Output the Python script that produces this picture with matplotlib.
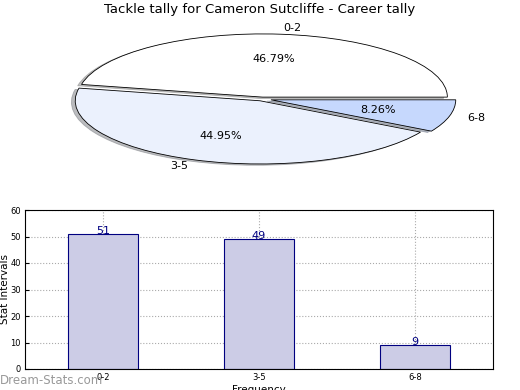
import matplotlib
matplotlib.use("Agg")
import matplotlib.pyplot as plt
import numpy as np

# data
categories = ["0-2", "3-5", "6-8"]
counts = [51, 49, 9]
pie_colors = ["#ffffff", "#ebf1fd", "#c6d8fd"]
explode = [0.03, 0.03, 0.05]

fig = plt.figure(figsize=(5.2, 3.9), dpi=100)

# pie chart (stretched, old-style)
ax1 = fig.add_axes([31 / 520, 1 - 178 / 390, 462 / 520, 158 / 390])
wedges, texts, autotexts = ax1.pie(
    counts, labels=categories, colors=pie_colors, explode=explode,
    autopct="%.2f%%", shadow={"ox": -0.015, "oy": -0.015, "shade": 0.5},
    startangle=0,
    wedgeprops={"edgecolor": "black", "linewidth": 0.6},
    textprops={"fontsize": 8},
)
ax1.set_aspect("auto")
ax1.set_xlim(-1.25, 1.25)
ax1.set_ylim(-1.25, 1.25)
fig.text(0.5, 1 - 10 / 390, "Tackle tally for Cameron Sutcliffe - Career tally",
         ha="center", va="center", fontsize=9.5)

# bar chart
ax2 = fig.add_axes([25 / 520, 1 - 369 / 390, 468 / 520, 159 / 390])
x = np.arange(len(categories))
ax2.bar(x, counts, width=0.45, color="#ccccE6", edgecolor="#000080",
        linewidth=0.8, zorder=2)
for xi, v in zip(x, counts):
    ax2.text(xi, v, str(v), ha="center", va="baseline", color="#000080",
             fontsize=8, zorder=3)
ax2.set_xlim(-0.5, 2.5)
ax2.set_ylim(0, 60)
ax2.set_yticks(range(0, 61, 10))
ax2.set_xticks(x)
ax2.set_xticklabels(categories)
ax2.tick_params(labelsize=6, direction="in", length=3, pad=3)
ax2.grid(True, linestyle=":", color="#aaaaaa", linewidth=0.8, zorder=0)
ax2.set_axisbelow(True)
ax2.set_ylabel("Stat Intervals", fontsize=7.5, va="center")
ax2.yaxis.set_label_coords(-20 / 468, 0.5)
ax2.set_xlabel("Frequency", fontsize=7.5, va="top")
ax2.xaxis.set_label_coords(0.5, -16 / 159)

fig.text(0.0, 1 - 380 / 390, "Dream-Stats.com", ha="left", va="center",
         fontsize=8.5, color="#999999")

fig.savefig("out.png", dpi=100)
